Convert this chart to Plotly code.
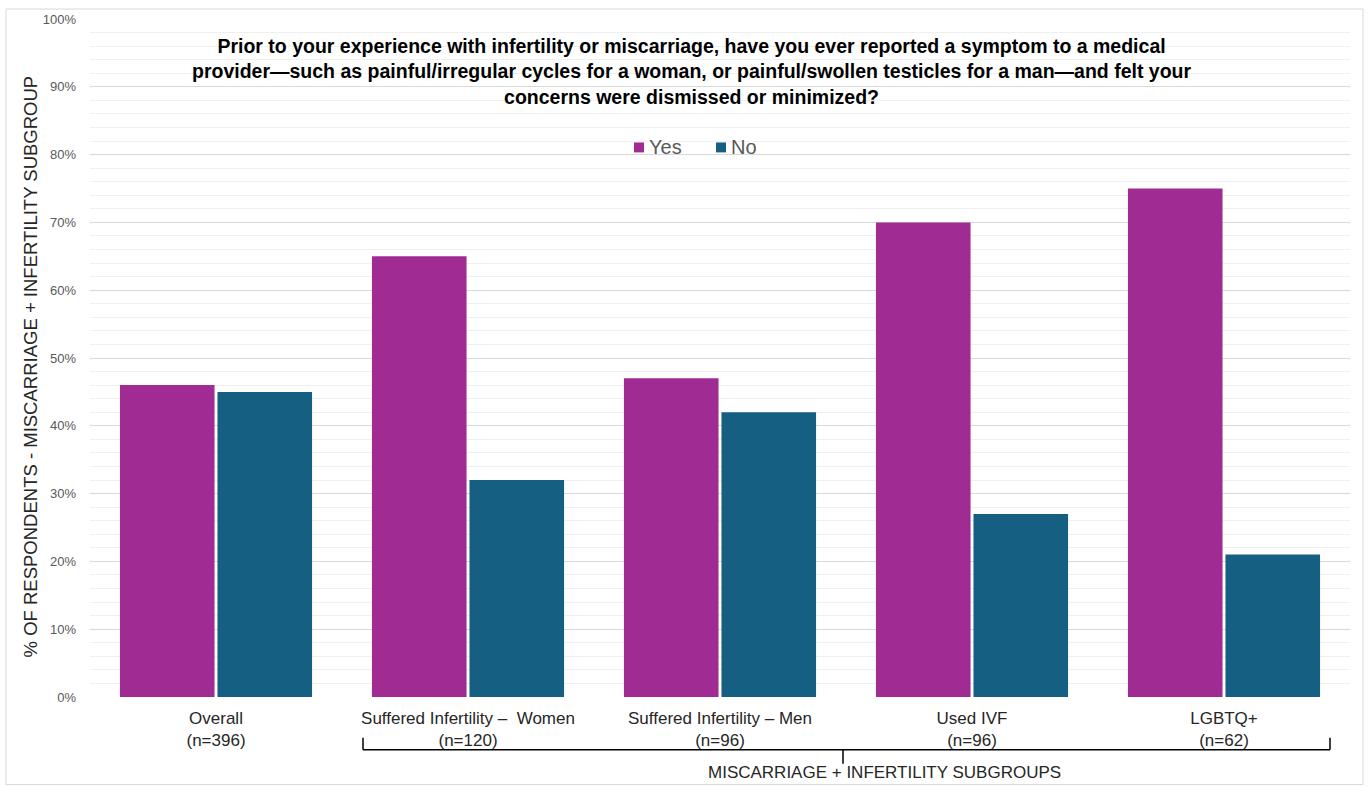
import plotly.graph_objects as go

categories = ["Overall", "Suffered Infertility \u2013\u00a0 Women", "Suffered Infertility \u2013 Men", "Used IVF", "LGBTQ+"]
sample_sizes = ["(n=396)", "(n=120)", "(n=96)", "(n=96)", "(n=62)"]
yes_values = [46, 65, 47, 70, 75]
no_values = [45, 32, 42, 27, 21]
y_ticks = [0, 10, 20, 30, 40, 50, 60, 70, 80, 90, 100]
y_tick_labels = [f"{v}%" for v in y_ticks]
series_names = ["Yes", "No"]
series_colors = ["#A02B93", "#156082"]

labels = [f"{c}<br>{n}" for c, n in zip(categories, sample_sizes)]

W, H = 1369, 787
L, R, T, B = 90, 19, 16, 90
PW, PH = W - L - R, H - T - B


def px(x):
    return (x - L) / PW


def py(y):
    return (H - B - y) / PH


font = "Liberation Sans, Arial, sans-serif"

fig = go.Figure()
for name, vals, col in zip(series_names, [yes_values, no_values], series_colors):
    fig.add_trace(go.Bar(name=name, x=labels, y=vals, marker_color=col, marker_line_width=0, showlegend=False))

fig.update_layout(
    width=W, height=H,
    margin=dict(l=L, r=R, t=T, b=B),
    paper_bgcolor="white", plot_bgcolor="white",
    barmode="group", bargap=0.226, bargroupgap=0.03,
    font=dict(family=font, color="#262626"),
    showlegend=False,
    xaxis=dict(showgrid=False, showline=False, ticks="", tickfont=dict(size=17, color="#262626"),
               range=[-0.5, 4.5], ticklabelstandoff=9),
    yaxis=dict(range=[0, 100], tickvals=y_ticks, ticktext=y_tick_labels, showline=False, zeroline=False,
               gridcolor="#d9d9d9", gridwidth=1, ticklabelstandoff=13,
               tickfont=dict(size=13, color="#595959"),
               minor=dict(dtick=2, showgrid=True, gridcolor="#f0f0f0", gridwidth=1)),
)

# legend (manual, to match spacing)
legend_x = [634, 716]
for name, col, lx in zip(series_names, series_colors, legend_x):
    fig.add_shape(type="rect", xref="paper", yref="paper", x0=px(lx), x1=px(lx + 10),
                  y0=py(150), y1=py(140), fillcolor=col, line=dict(width=0))
    fig.add_annotation(xref="paper", yref="paper", x=px(lx + 13), y=py(145), xanchor="left", yanchor="middle",
                       text=name, showarrow=False, font=dict(size=20, color="#595959", family=font))

fig.add_annotation(
    xref="paper", yref="paper", x=px(691), y=py(30), xanchor="center", yanchor="top",
    text="<b>Prior to your experience with infertility or miscarriage, have you ever reported a symptom to a medical<br>"
         "provider\u2014such as painful/irregular cycles for a woman, or painful/swollen testicles for a man\u2014and felt your<br>"
         "concerns were dismissed or minimized?</b>",
    showarrow=False, font=dict(size=19.5, color="#000000", family=font), align="center",
)

fig.add_annotation(
    xref="paper", yref="paper", x=px(30), y=py(365), xanchor="center", yanchor="middle",
    text="% OF RESPONDENTS - MISCARRIAGE + INFERTILITY SUBGROUP", textangle=-90,
    showarrow=False, font=dict(size=18.5, color="#262626", family=font),
)

fig.add_annotation(
    xref="paper", yref="paper", x=px(884), y=py(773), xanchor="center", yanchor="middle",
    text="MISCARRIAGE + INFERTILITY SUBGROUPS",
    showarrow=False, font=dict(size=17, color="#262626", family=font),
)

# outer border
fig.add_shape(type="rect", xref="paper", yref="paper", x0=px(6), x1=px(1363), y0=py(785), y1=py(6),
              line=dict(color="#d9d9d9", width=1), layer="below")

# bracket
line_style = dict(color="#000000", width=1.5)
fig.add_shape(type="line", xref="paper", yref="paper", x0=px(363), x1=px(1330), y0=py(750), y1=py(750), line=line_style)
fig.add_shape(type="line", xref="paper", yref="paper", x0=px(363), x1=px(363), y0=py(738), y1=py(750), line=line_style)
fig.add_shape(type="line", xref="paper", yref="paper", x0=px(1330), x1=px(1330), y0=py(738), y1=py(750), line=line_style)
fig.add_shape(type="line", xref="paper", yref="paper", x0=px(843), x1=px(843), y0=py(750), y1=py(764), line=line_style)

fig.write_html("out.html")
